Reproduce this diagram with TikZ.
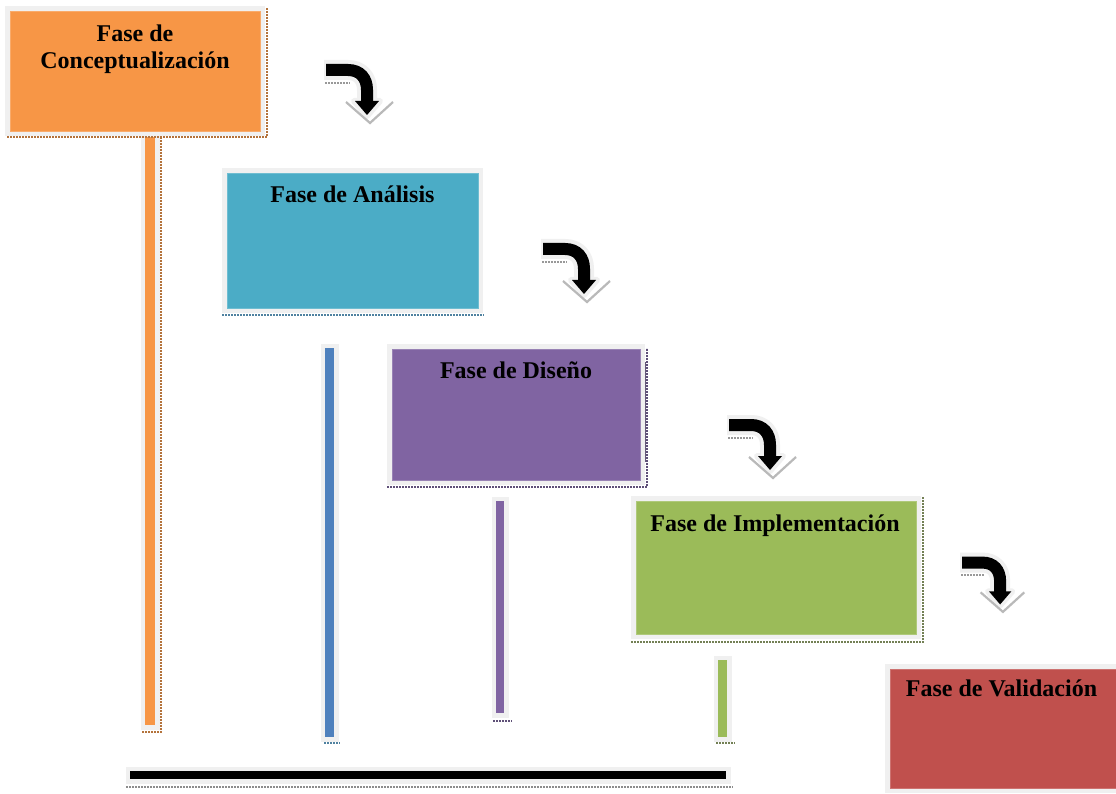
\documentclass[tikz,border=0pt]{standalone}
\usepackage{fontspec}
\setmainfont{Liberation Serif}
\definecolor{halo}{RGB}{240,240,240}
\definecolor{cOrange}{RGB}{247,150,70}
\definecolor{cTeal}{RGB}{75,172,198}
\definecolor{cPurple}{RGB}{128,100,162}
\definecolor{cGreen}{RGB}{155,187,89}
\definecolor{cRed}{RGB}{192,80,77}
\definecolor{cBlue}{RGB}{79,129,189}
\definecolor{dOrange}{RGB}{180,115,60}
\definecolor{dTeal}{RGB}{80,130,160}
\definecolor{dPurple}{RGB}{95,80,120}
\definecolor{dGreen}{RGB}{115,128,85}
\definecolor{dGray}{RGB}{140,140,140}
\begin{document}
\begin{tikzpicture}[x=1pt,y=-1pt,
  phase/.style={rectangle, anchor=north west, inner sep=0pt, outer sep=0pt,
    preaction={draw=halo, line width=10pt},
    draw=#1!80!white, line width=0.8pt, fill=#1},
  bar/.style={rectangle, anchor=north west, inner sep=0pt, outer sep=0pt,
    preaction={draw=halo, line width=9pt}, fill=#1},
  phasetext/.style={font=\bfseries\fontsize{24}{27}\selectfont, inner sep=0pt, align=center},
  shadowdots/.style={draw=#1, line width=2.4pt, dash pattern=on 1.6pt off 1.4pt},
  turnarrow/.pic={
    % light halo behind the arrow
    \draw[halo, line width=20pt, line join=round]
      (-2,6) -- (22,6) .. controls (34,6) and (41,14) .. (41,26) -- (41,36);
    \fill[halo, draw=halo, line width=6pt, line join=round] (28,37) -- (54,37) -- (41,52) -- cycle;
    % faint chevron and dotted trace under the arrow
    \draw[gray!55, line width=2.2pt] (20,38) -- (44,59) -- (67,38);
    \draw[gray!80, line width=1.8pt, dash pattern=on 1.5pt off 1.5pt] (-1,19) -- (24,19);
    % black bent arrow
    \draw[black, line width=12pt]
      (0,6) -- (22,6) .. controls (34,6) and (41,14) .. (41,26) -- (41,38);
    \fill[black] (29,37) -- (53,37) -- (41,51) -- cycle;
  }]
\useasboundingbox (0,0) rectangle (1116,794);
\fill[white] (0,0) rectangle (1116,794);

% vertical timeline bars and the base bar
\node[bar=cOrange, minimum width=10pt, minimum height=588pt] (barC) at (145,137) {};
\node[bar=cBlue, minimum width=9pt, minimum height=389pt] (barA) at (325,348) {};
\node[bar=cPurple, minimum width=8pt, minimum height=212pt] (barD) at (496,501) {};
\node[bar=cGreen, minimum width=9pt, minimum height=77pt] (barI) at (718,660) {};
\node[bar=black, minimum width=596pt, minimum height=8pt] (base) at (130,771) {};

% dotted shadows of the bars
\draw[shadowdots=dOrange] (161,137) -- (161,732) -- (142,732);
\draw[shadowdots=dTeal] (324,743) -- (340,743);
\draw[shadowdots=dPurple] (493,721) -- (512,721);
\draw[shadowdots=dGreen] (716,743) -- (735,743);
\draw[shadowdots=dGray] (126,787) -- (733,787);

% phase boxes
\node[phase=cOrange, minimum width=250pt, minimum height=120pt] (concept) at (10,11) {};
\node[phase=cTeal, minimum width=251pt, minimum height=135pt] (analisis) at (227,173) {};
\node[phase=cPurple, minimum width=248pt, minimum height=131pt] (diseno) at (392,349) {};
\node[phase=cGreen, minimum width=280pt, minimum height=133pt] (implem) at (636,501) {};
\node[phase=cRed, minimum width=226pt, minimum height=119pt] (valid) at (890,669) {};

% dotted shadows of the boxes
\draw[shadowdots=dOrange] (7,137) -- (267,137) -- (267,8);
\draw[shadowdots=dTeal] (222,315) -- (484,315);
\draw[shadowdots=dPurple] (387,487) -- (647,487) -- (647,348);
\draw[line width=1.5pt, draw=dPurple!80!gray] (645.5,362) -- (645.5,462);
\draw[shadowdots=dGreen] (631,642) -- (923,642) -- (923,497);

% phase titles
\node[phasetext, anchor=north] (conceptT) at (135,24.5) {Fase de\\Conceptualización};
\node[phasetext, anchor=base] (analisisT) at (352.5,203) {Fase de Análisis};
\node[phasetext, anchor=base] (disenoT) at (516,378) {Fase de Diseño};
\node[phasetext, anchor=base] (implemT) at (775,531) {Fase de Implementación};
\node[phasetext, anchor=base] (validT) at (1001.5,696) {Fase de Validación};

% bent arrows between the phases
\pic at (326,64) {turnarrow};
\pic at (543,243) {turnarrow};
\pic at (729,419) {turnarrow};
\pic[scale=0.93] at (962,557) {turnarrow};
\end{tikzpicture}
\end{document}
